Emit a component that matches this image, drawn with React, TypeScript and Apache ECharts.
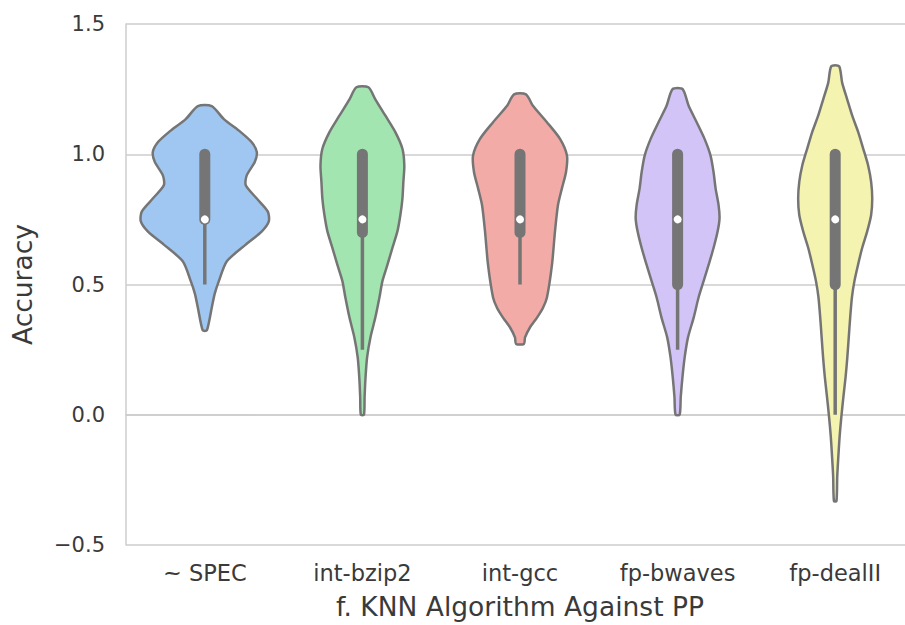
import React, { useEffect, useRef } from "react";
import * as echarts from "echarts";

const categories = ["~ SPEC", "int-bzip2", "int-gcc", "fp-bwaves", "fp-dealII"];

// Violin density outlines: value (Accuracy) and half-width as a fraction of the category band
const specY = [1.185, 1.135, 1.085, 1.046, 1.008, 0.97, 0.919, 0.881, 0.83, 0.78, 0.742, 0.704, 0.653, 0.589, 0.513, 0.465, 0.411, 0.324];
const specW = [0.044, 0.121, 0.228, 0.298, 0.33, 0.317, 0.266, 0.26, 0.33, 0.4, 0.406, 0.362, 0.26, 0.14, 0.089, 0.063, 0.044, 0.013];

const bzip2Y = [1.257, 1.211, 1.148, 1.085, 1.021, 0.957, 0.894, 0.83, 0.767, 0.704, 0.64, 0.576, 0.513, 0.45, 0.373, 0.297, 0.221, 0.145, 0.069, 0.0];
const bzip2W = [0.038, 0.082, 0.146, 0.209, 0.254, 0.266, 0.26, 0.254, 0.241, 0.222, 0.19, 0.159, 0.127, 0.108, 0.082, 0.051, 0.03, 0.02, 0.014, 0.01];

const gccY = [1.23, 1.186, 1.123, 1.059, 0.995, 0.932, 0.869, 0.805, 0.704, 0.576, 0.45, 0.411, 0.373, 0.335, 0.297, 0.272];
const gccW = [0.038, 0.082, 0.171, 0.254, 0.298, 0.292, 0.266, 0.241, 0.222, 0.203, 0.171, 0.146, 0.108, 0.063, 0.032, 0.025];

const bwavesY = [1.25, 1.186, 1.123, 1.059, 0.995, 0.932, 0.869, 0.805, 0.754, 0.704, 0.64, 0.576, 0.513, 0.45, 0.373, 0.297, 0.221, 0.145, 0.069, 0.0];
const bwavesW = [0.032, 0.07, 0.121, 0.171, 0.209, 0.228, 0.241, 0.26, 0.266, 0.254, 0.228, 0.197, 0.165, 0.133, 0.102, 0.066, 0.045, 0.031, 0.02, 0.013];

const dealY = [1.338, 1.275, 1.211, 1.148, 1.085, 1.021, 0.957, 0.894, 0.83, 0.767, 0.704, 0.64, 0.576, 0.513, 0.45, 0.373, 0.297, 0.221, 0.145, 0.069, -0.008, -0.084, -0.16, -0.236, -0.331];
const dealW = [0.025, 0.044, 0.076, 0.108, 0.146, 0.178, 0.209, 0.228, 0.235, 0.228, 0.203, 0.171, 0.145, 0.122, 0.106, 0.095, 0.086, 0.077, 0.066, 0.052, 0.039, 0.028, 0.02, 0.013, 0.008];

// Inner box statistics
const q1 = [0.75, 0.7, 0.7, 0.5, 0.5];
const q3 = [1.0, 1.0, 1.0, 1.0, 1.0];
const medians = [0.75, 0.75, 0.75, 0.75, 0.75];
const whiskerLow = [0.5, 0.25, 0.5, 0.25, 0.0];
const whiskerHigh = [1.0, 1.0, 1.0, 1.0, 1.0];

const yTicks = [-0.5, 0.0, 0.5, 1.0, 1.5];

const profileY = [specY, bzip2Y, gccY, bwavesY, dealY];
const profileW = [specW, bzip2W, gccW, bwavesW, dealW];
const fills = ["#a0c7f1", "#a2e5b0", "#f2aba7", "#d3c4f7", "#f4f3af"];
const GRAY = "#757575";
const TEXT = "#3a3a3a";
const FONT = "DejaVu Sans";

export default function App() {
  const ref = useRef<HTMLDivElement>(null);
  useEffect(() => {
    document.body.style.margin = "0";
    if (!ref.current) return;
    const chart = echarts.init(ref.current, null, { renderer: "svg" });
    chart.setOption({
      animation: false,
      backgroundColor: "#ffffff",
      grid: { left: 126, right: 0, top: 24, bottom: 76 },
      xAxis: {
        type: "category",
        data: categories,
        boundaryGap: true,
        axisLine: { show: true, lineStyle: { color: "#cccccc", width: 1.5 } },
        axisTick: { show: false },
        axisLabel: { color: TEXT, fontSize: 22.5, fontFamily: FONT, margin: 16 },
        splitLine: { show: false },
        name: "f. KNN Algorithm Against PP",
        nameLocation: "middle",
        nameGap: 48,
        nameTextStyle: { color: TEXT, fontSize: 26.5, fontFamily: FONT },
      },
      yAxis: {
        type: "value",
        min: yTicks[0],
        max: yTicks[yTicks.length - 1],
        interval: 0.5,
        axisLine: { show: true, lineStyle: { color: "#cccccc", width: 1.5 } },
        axisTick: { show: false },
        axisLabel: {
          color: TEXT,
          fontSize: 21,
          fontFamily: FONT,
          margin: 21,
          formatter: (v: number) => (v < 0 ? "\u2212" : "") + Math.abs(v).toFixed(1),
        },
        splitLine: { show: true, lineStyle: { color: "#cccccc", width: 1.5 } },
        name: "Accuracy",
        nameLocation: "middle",
        nameGap: 90,
        nameTextStyle: { color: TEXT, fontSize: 26.5, fontFamily: FONT },
      },
      series: [
        {
          type: "custom",
          data: categories.map((_, i) => [i, medians[i]]),
          encode: { x: 0, y: 1 },
          renderItem: (params: any, api: any) => {
            const i = api.value(0) as number;
            const cx = api.coord([i, 0])[0];
            const band = api.size([1, 0])[0];
            const ys = profileY[i];
            const ws = profileW[i];
            const right = ys.map((v, k) => [cx + ws[k] * band, api.coord([i, v])[1]]);
            const left = ys.map((v, k) => [cx - ws[k] * band, api.coord([i, v])[1]]).reverse();
            const pts = right.concat(left);
            const yQ1 = api.coord([i, q1[i]])[1];
            const yQ3 = api.coord([i, q3[i]])[1];
            const yMed = api.coord([i, medians[i]])[1];
            const yWl = api.coord([i, whiskerLow[i]])[1];
            const yWh = api.coord([i, whiskerHigh[i]])[1];
            return {
              type: "group",
              children: [
                {
                  type: "polygon",
                  shape: { points: pts, smooth: 0.25 },
                  style: { fill: fills[i], stroke: GRAY, lineWidth: 2.5, lineJoin: "round" },
                },
                {
                  type: "line",
                  shape: { x1: cx, y1: yWl, x2: cx, y2: yWh },
                  style: { stroke: GRAY, lineWidth: 3.5 },
                },
                {
                  type: "line",
                  shape: { x1: cx, y1: yQ1, x2: cx, y2: yQ3 },
                  style: { stroke: GRAY, lineWidth: 11, lineCap: "round" },
                },
                {
                  type: "circle",
                  shape: { cx: cx, cy: yMed, r: 4 },
                  style: { fill: "#ffffff" },
                },
              ],
            };
          },
        },
      ],
    });
    return () => chart.dispose();
  }, []);
  return (
    <div style={{ width: 905, height: 625, overflow: "hidden", position: "relative", background: "#fff" }}>
      <div ref={ref} style={{ width: 914, height: 625 }} />
    </div>
  );
}
